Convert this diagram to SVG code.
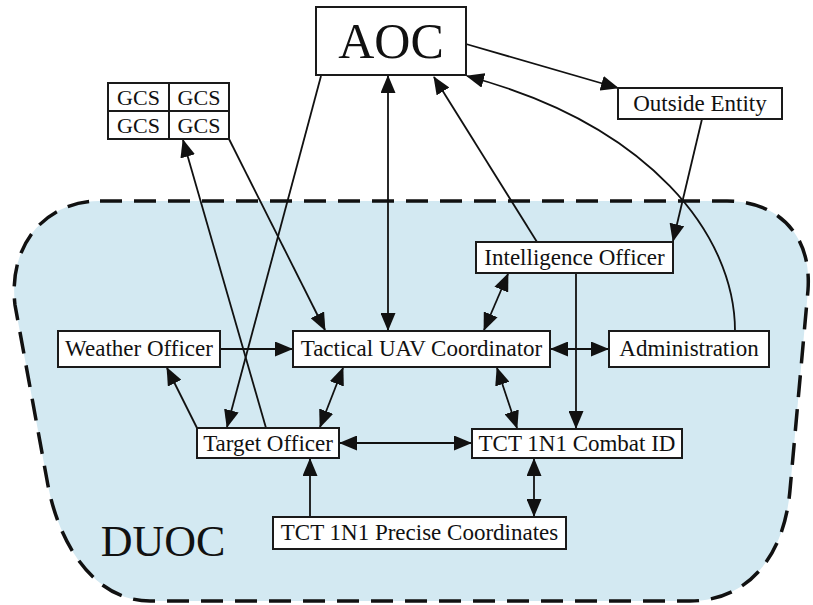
<svg xmlns="http://www.w3.org/2000/svg" width="813" height="605" viewBox="0 0 813 605">
<style>
.box{fill:#fff;stroke:#1a1a1a;stroke-width:2}
.lbl{font-family:'Liberation Serif','DejaVu Serif',Times,serif;font-size:23px;fill:#111;text-anchor:middle}
.gcs{font-size:22px}
.big{font-family:'Liberation Serif','DejaVu Serif',Times,serif;font-size:50px;fill:#111;text-anchor:middle}
.c{fill:none;stroke:#111;stroke-width:1.8}
.e{marker-end:url(#ah)}
.b{marker-start:url(#ah);marker-end:url(#ah)}
</style>
<defs>
<marker id="ah" markerUnits="userSpaceOnUse" markerWidth="18" markerHeight="15" refX="17" refY="7.5" orient="auto-start-reverse" viewBox="0 0 18 15">
<path d="M0,0 L18,7.5 L0,15 z" fill="#111"/>
</marker>
</defs>
<rect width="813" height="605" fill="#fff"/>
<g id="duoc">
<path d="M100,201 L727,201 C775,201 812,232 808,290 L790,490 C784,560 745,601 690,601 L150,601 C95,601 58,545 47,480 L15,305 C8,245 45,201 100,201 Z" fill="#d3e9f2" stroke="#111" stroke-width="3.5" stroke-dasharray="22 12"/>
<text class="big" x="163" y="556" font-family="Liberation Serif, DejaVu Serif, serif" style="font-size:44px">DUOC</text>
</g>
<g id="connectors">
<line class="c b" x1="388" y1="76" x2="388" y2="330"/>
<line class="c e" x1="466" y1="44" x2="618" y2="88"/>
<path class="c e" d="M735,331 C735,235 650,125 467,76"/>
<line class="c e" x1="537" y1="242" x2="434" y2="77"/>
<line class="c e" x1="702" y1="119" x2="673" y2="241"/>
<line class="c b" x1="508" y1="274" x2="484" y2="330"/>
<line class="c e" x1="576" y1="273" x2="576" y2="428"/>
<line class="c b" x1="551" y1="349" x2="608" y2="349"/>
<line class="c b" x1="497" y1="368" x2="517" y2="428"/>
<line class="c b" x1="340" y1="443" x2="471" y2="443"/>
<line class="c b" x1="534" y1="459" x2="534" y2="516"/>
<line class="c e" x1="310" y1="517" x2="310" y2="459"/>
<line class="c e" x1="220" y1="349" x2="292" y2="349"/>
<line class="c e" x1="197" y1="428" x2="167" y2="368"/>
<line class="c b" x1="320" y1="427" x2="343" y2="368"/>
<line class="c e" x1="321" y1="76" x2="227" y2="427"/>
<line class="c e" x1="266" y1="428" x2="183" y2="140"/>
<line class="c e" x1="229" y1="139" x2="325" y2="330"/>
</g>
<g id="aoc">
<rect class="box" x="316" y="7" width="150" height="68"/>
<text class="big" x="391" y="58" font-family="Liberation Serif, DejaVu Serif, serif">AOC</text>
</g>
<g id="gcs">
<rect class="box" x="108" y="83" width="121" height="56"/>
<line x1="169" y1="83" x2="169" y2="139" stroke="#1a1a1a" stroke-width="2"/>
<line x1="108" y1="111" x2="229" y2="111" stroke="#1a1a1a" stroke-width="2"/>
<text class="lbl gcs" x="138.5" y="105">GCS</text>
<text class="lbl gcs" x="199" y="105">GCS</text>
<text class="lbl gcs" x="138.5" y="133">GCS</text>
<text class="lbl gcs" x="199" y="133">GCS</text>
</g>
<g id="outside-entity">
<rect class="box" x="618" y="88" width="164" height="31"/>
<text class="lbl" x="700" y="111">Outside Entity</text>
</g>
<g id="intelligence-officer">
<rect class="box" x="476" y="242" width="197" height="31"/>
<text class="lbl" x="574.5" y="265">Intelligence Officer</text>
</g>
<g id="weather-officer">
<rect class="box" x="58" y="331" width="162" height="36"/>
<text class="lbl" x="139" y="356">Weather Officer</text>
</g>
<g id="tactical-uav-coordinator">
<rect class="box" x="293" y="331" width="257" height="36"/>
<text class="lbl" x="421.5" y="356">Tactical UAV Coordinator</text>
</g>
<g id="administration">
<rect class="box" x="609" y="331" width="160" height="36"/>
<text class="lbl" x="689" y="356">Administration</text>
</g>
<g id="target-officer">
<rect class="box" x="197" y="428" width="142" height="30"/>
<text class="lbl" x="268" y="451">Target Officer</text>
</g>
<g id="tct-combat-id">
<rect class="box" x="472" y="429" width="210" height="29"/>
<text class="lbl" x="577" y="451">TCT 1N1 Combat ID</text>
</g>
<g id="tct-precise-coordinates">
<rect class="box" x="273" y="517" width="293" height="32"/>
<text class="lbl" x="419.5" y="540">TCT 1N1 Precise Coordinates</text>
</g>
</svg>
